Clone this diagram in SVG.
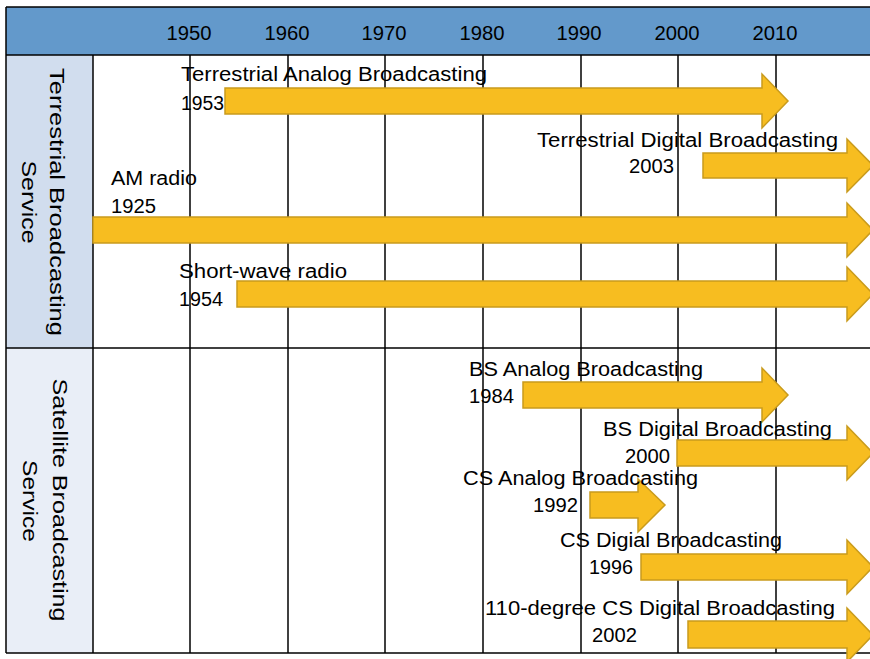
<svg xmlns="http://www.w3.org/2000/svg" width="870" height="659" viewBox="0 0 870 659">
<style>
.line{stroke:#000;stroke-width:1.5;fill:none}
.bar{fill:#F7BD20;stroke:#C99B1C;stroke-width:1.5;stroke-linejoin:miter}
.lbl{font-family:"Liberation Sans",Arial,sans-serif;font-size:19.5px;fill:#000}
.yr{font-family:"Liberation Sans",Arial,sans-serif;font-size:20px;fill:#000;text-anchor:middle}
.side{font-family:"Liberation Sans",Arial,sans-serif;font-size:21px;fill:#000;text-anchor:middle}
</style>
<rect width="870" height="659" fill="#fff"/>
<g id="background">
<rect x="6" y="7" width="870" height="48" fill="#6399CB"/>
<rect x="6" y="55" width="87" height="293" fill="#D1DDEE"/>
<rect x="6" y="348" width="87" height="305" fill="#E9EEF7"/>
</g>
<g id="header">
<text class="yr" x="189" y="40" textLength="45" lengthAdjust="spacingAndGlyphs">1950</text>
<text class="yr" x="287" y="40" textLength="45" lengthAdjust="spacingAndGlyphs">1960</text>
<text class="yr" x="384" y="40" textLength="45" lengthAdjust="spacingAndGlyphs">1970</text>
<text class="yr" x="482" y="40" textLength="45" lengthAdjust="spacingAndGlyphs">1980</text>
<text class="yr" x="579" y="40" textLength="45" lengthAdjust="spacingAndGlyphs">1990</text>
<text class="yr" x="677" y="40" textLength="45" lengthAdjust="spacingAndGlyphs">2000</text>
<text class="yr" x="775" y="40" textLength="45" lengthAdjust="spacingAndGlyphs">2010</text>
</g>
<g id="grid">
<line class="line" x1="6" y1="7" x2="870" y2="7"/>
<line class="line" x1="6" y1="55" x2="870" y2="55"/>
<line class="line" x1="6" y1="348" x2="870" y2="348"/>
<line class="line" x1="6" y1="653" x2="870" y2="653"/>
<line class="line" x1="6" y1="7" x2="6" y2="653"/>
<line class="line" x1="93" y1="55" x2="93" y2="653"/>
<line class="line" x1="190" y1="55" x2="190" y2="653"/>
<line class="line" x1="288" y1="55" x2="288" y2="653"/>
<line class="line" x1="385" y1="55" x2="385" y2="653"/>
<line class="line" x1="483" y1="55" x2="483" y2="653"/>
<line class="line" x1="581" y1="55" x2="581" y2="653"/>
<line class="line" x1="678" y1="55" x2="678" y2="653"/>
<line class="line" x1="776" y1="55" x2="776" y2="653"/>
</g>
<g id="cat-terrestrial">
<text class="side" transform="translate(50 202) rotate(90)" textLength="268" lengthAdjust="spacingAndGlyphs">Terrestrial Broadcasting</text>
<text class="side" transform="translate(22 202) rotate(90)" textLength="83" lengthAdjust="spacingAndGlyphs">Service</text>
</g>
<g id="cat-satellite">
<text class="side" transform="translate(53 500) rotate(90)" textLength="243" lengthAdjust="spacingAndGlyphs">Satellite Broadcasting</text>
<text class="side" transform="translate(23 501) rotate(90)" textLength="82" lengthAdjust="spacingAndGlyphs">Service</text>
</g>
<g id="connectors">
<polygon class="bar" points="225,88 762,88 762,74 788,101 762,128 762,114 225,114"/>
<polygon class="bar" points="703,153 847,153 847,139 873,165.5 847,192 847,178 703,178"/>
<polygon class="bar" points="93,217 847,217 847,203 873,230 847,257 847,243 93,243"/>
<polygon class="bar" points="237,281 847,281 847,267 873,294 847,321 847,307 237,307"/>
<polygon class="bar" points="523,382 762,382 762,368 788,395 762,422 762,408 523,408"/>
<polygon class="bar" points="677,440 847,440 847,426 873,453 847,480 847,466 677,466"/>
<polygon class="bar" points="590,492 638,492 638,479 665,505 638,532 638,518 590,518"/>
<polygon class="bar" points="641,554 847,554 847,540 873,567 847,594 847,580 641,580"/>
<polygon class="bar" points="688,621 847,621 847,608 873,635 847,662 847,648 688,648"/>
</g>
<g id="terrestrial-analog">
<text class="lbl" x="181" y="81" textLength="306" lengthAdjust="spacingAndGlyphs">Terrestrial Analog Broadcasting</text>
<text class="lbl" x="181" y="110" textLength="43" lengthAdjust="spacingAndGlyphs">1953</text>
</g>
<g id="terrestrial-digital">
<text class="lbl" x="537" y="147" textLength="301" lengthAdjust="spacingAndGlyphs">Terrestrial Digital Broadcasting</text>
<text class="lbl" x="629" y="173" textLength="45" lengthAdjust="spacingAndGlyphs">2003</text>
</g>
<g id="am-radio">
<text class="lbl" x="111" y="185" textLength="86" lengthAdjust="spacingAndGlyphs">AM radio</text>
<text class="lbl" x="111" y="213" textLength="45" lengthAdjust="spacingAndGlyphs">1925</text>
</g>
<g id="short-wave">
<text class="lbl" x="179" y="278" textLength="168" lengthAdjust="spacingAndGlyphs">Short-wave radio</text>
<text class="lbl" x="179" y="306" textLength="44" lengthAdjust="spacingAndGlyphs">1954</text>
</g>
<g id="bs-analog">
<text class="lbl" x="469" y="376" textLength="234" lengthAdjust="spacingAndGlyphs">BS Analog Broadcasting</text>
<text class="lbl" x="469" y="403" textLength="45" lengthAdjust="spacingAndGlyphs">1984</text>
</g>
<g id="bs-digital">
<text class="lbl" x="603" y="436" textLength="229" lengthAdjust="spacingAndGlyphs">BS Digital Broadcasting</text>
<text class="lbl" x="625" y="463" textLength="45" lengthAdjust="spacingAndGlyphs">2000</text>
</g>
<g id="cs-analog">
<text class="lbl" x="463" y="485" textLength="235" lengthAdjust="spacingAndGlyphs">CS Analog Broadcasting</text>
<text class="lbl" x="533" y="512" textLength="45" lengthAdjust="spacingAndGlyphs">1992</text>
</g>
<g id="cs-digital">
<text class="lbl" x="560" y="547" textLength="222" lengthAdjust="spacingAndGlyphs">CS Digial Broadcasting</text>
<text class="lbl" x="589" y="574" textLength="44" lengthAdjust="spacingAndGlyphs">1996</text>
</g>
<g id="cs110-digital">
<text class="lbl" x="485" y="615" textLength="350" lengthAdjust="spacingAndGlyphs">110-degree CS Digital Broadcasting</text>
<text class="lbl" x="592" y="642" textLength="45" lengthAdjust="spacingAndGlyphs">2002</text>
</g>
</svg>
